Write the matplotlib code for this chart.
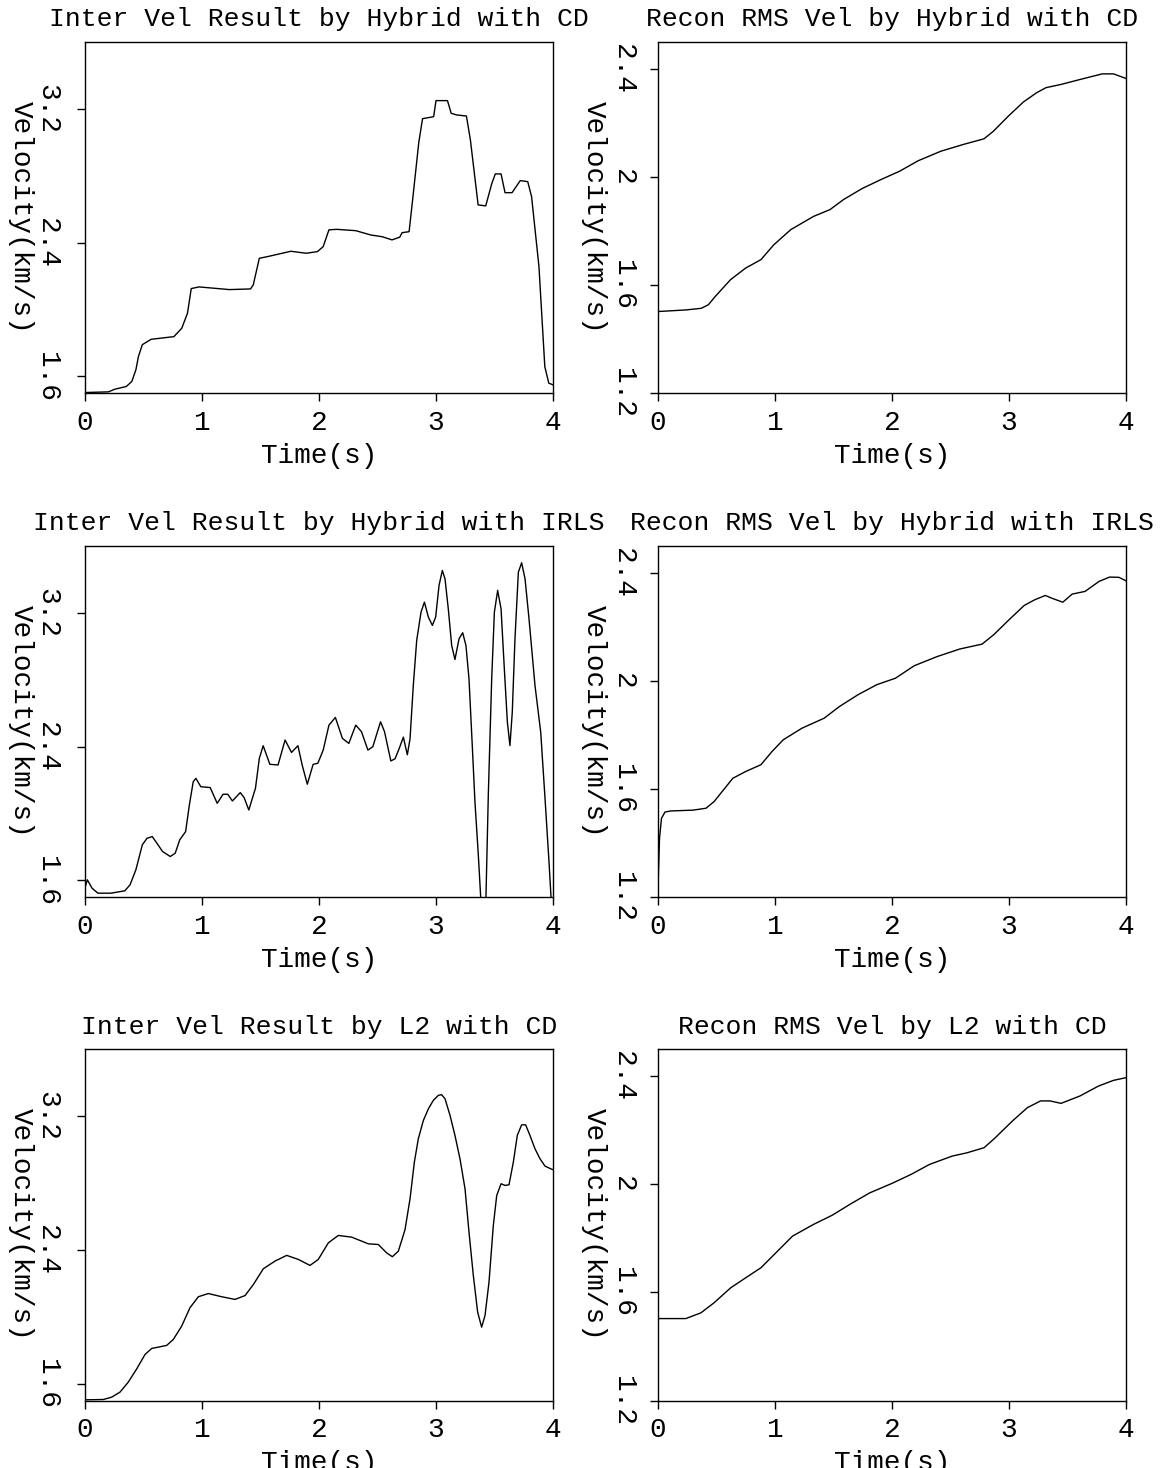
import matplotlib
matplotlib.use("Agg")
import matplotlib.pyplot as plt

plt.rcParams['font.family'] = ['Liberation Mono', 'DejaVu Sans Mono']

# ---------------- data ----------------
titles = [
    "Inter Vel Result by Hybrid with CD", "Recon RMS Vel by Hybrid with CD",
    "Inter Vel Result by Hybrid with IRLS", "Recon RMS Vel by Hybrid with IRLS",
    "Inter Vel Result by L2 with CD", "Recon RMS Vel by L2 with CD",
]
xlabel = "Time(s)"
ylabel = "Velocity(km/s)"
x_ticks = [0, 1, 2, 3, 4]
int_ticks = [1.6, 2.4, 3.2]
int_tick_labels = ["1.6", "2.4", "3.2"]
rms_ticks = [1.2, 1.6, 2.0, 2.4]
rms_tick_labels = ["1.2", "1.6", "2", "2.4"]
int_range = (1.5, 3.6)
rms_range = (1.2, 2.5)
t_range = (0, 4)

# Interval velocity, Hybrid with CD
t_int_cd = [0.0, 0.2, 0.255, 0.353, 0.40, 0.435, 0.457, 0.49, 0.565, 0.76, 0.827, 0.876,
            0.908, 0.974, 1.235, 1.415, 1.438, 1.49, 1.56, 1.76, 1.89, 1.987, 2.036, 2.085,
            2.15, 2.314, 2.444, 2.54, 2.624, 2.69, 2.71, 2.77, 2.80, 2.853, 2.885, 2.98,
            3.0, 3.098, 3.13, 3.18, 3.26, 3.294, 3.36, 3.425, 3.477, 3.507, 3.556, 3.59,
            3.65, 3.72, 3.784, 3.817, 3.88, 3.93, 3.964, 4.0]
v_int_cd = [1.504, 1.508, 1.524, 1.54, 1.57, 1.64, 1.72, 1.79, 1.822, 1.838, 1.888, 1.978,
            2.125, 2.135, 2.119, 2.123, 2.147, 2.306, 2.316, 2.348, 2.336, 2.346, 2.376, 2.476,
            2.479, 2.471, 2.445, 2.435, 2.416, 2.432, 2.459, 2.465, 2.654, 2.999, 3.14, 3.152,
            3.248, 3.248, 3.172, 3.162, 3.156, 3.013, 2.625, 2.619, 2.753, 2.81, 2.81, 2.698,
            2.698, 2.77, 2.764, 2.674, 2.256, 1.659, 1.56, 1.55]

# RMS velocity, Hybrid with CD
t_rms_cd = [0.0, 0.24, 0.37, 0.43, 0.49, 0.62, 0.75, 0.88, 0.99, 1.135, 1.33, 1.47, 1.585,
            1.745, 1.905, 2.065, 2.225, 2.418, 2.61, 2.787, 2.867, 2.995, 3.123, 3.235,
            3.316, 3.445, 3.605, 3.797, 3.893, 4.0]
v_rms_cd = [1.502, 1.508, 1.514, 1.527, 1.558, 1.62, 1.663, 1.694, 1.749, 1.805, 1.854,
            1.879, 1.916, 1.957, 1.99, 2.021, 2.06, 2.095, 2.12, 2.141, 2.169, 2.225, 2.277,
            2.311, 2.33, 2.342, 2.36, 2.381, 2.381, 2.364]

# Interval velocity, Hybrid with IRLS
t_int_irls = [0.0, 0.02, 0.06, 0.11, 0.22, 0.34, 0.385, 0.435, 0.49, 0.53, 0.575, 0.614,
              0.663, 0.729, 0.771, 0.81, 0.86, 0.892, 0.925, 0.948, 0.99, 1.07, 1.13, 1.18,
              1.22, 1.26, 1.327, 1.36, 1.40, 1.457, 1.49, 1.523, 1.58, 1.65, 1.71, 1.765,
              1.82, 1.856, 1.90, 1.95, 1.99, 2.036, 2.085, 2.14, 2.20, 2.255, 2.314, 2.363,
              2.418, 2.46, 2.526, 2.56, 2.614, 2.650, 2.684, 2.721, 2.755, 2.778, 2.806,
              2.835, 2.872, 2.901, 2.935, 2.969, 2.997, 3.026, 3.054, 3.077, 3.105, 3.134,
              3.162, 3.197, 3.228, 3.256, 3.282, 3.310, 3.333, 3.362, 3.382, 3.405, 3.427,
              3.447, 3.476, 3.499, 3.527, 3.556, 3.584, 3.610, 3.632, 3.652, 3.675, 3.704,
              3.732, 3.761, 3.795, 3.846, 3.895, 3.932, 3.966, 3.983, 4.0]
v_int_irls = [1.558, 1.604, 1.554, 1.524, 1.524, 1.538, 1.574, 1.664, 1.813, 1.852, 1.862,
              1.823, 1.773, 1.743, 1.763, 1.843, 1.892, 2.051, 2.19, 2.21, 2.16, 2.155, 2.061,
              2.115, 2.115, 2.075, 2.125, 2.095, 2.021, 2.151, 2.33, 2.405, 2.294, 2.29, 2.439,
              2.365, 2.405, 2.29, 2.175, 2.294, 2.30, 2.379, 2.528, 2.574, 2.449, 2.419, 2.528,
              2.489, 2.379, 2.399, 2.548, 2.489, 2.314, 2.327, 2.386, 2.456, 2.351, 2.446,
              2.765, 3.034, 3.203, 3.263, 3.173, 3.124, 3.173, 3.363, 3.452, 3.402, 3.223,
              3.004, 2.920, 3.044, 3.080, 3.004, 2.805, 2.406, 2.068, 1.749, 1.5, 1.35, 1.5,
              2.108, 2.805, 3.203, 3.333, 3.223, 2.865, 2.546, 2.406, 2.606, 3.044, 3.442,
              3.498, 3.402, 3.163, 2.765, 2.486, 2.088, 1.709, 1.5, 1.3]

# RMS velocity, Hybrid with IRLS
t_rms_irls = [0.0, 0.013, 0.03, 0.06, 0.11, 0.30, 0.41, 0.48, 0.56, 0.64, 0.75, 0.88, 0.975,
              1.07, 1.23, 1.42, 1.55, 1.71, 1.87, 2.03, 2.19, 2.386, 2.58, 2.77, 2.87, 3.0,
              3.13, 3.22, 3.31, 3.365, 3.46, 3.54, 3.65, 3.77, 3.86, 3.94, 4.0]
v_rms_irls = [1.239, 1.418, 1.492, 1.515, 1.519, 1.522, 1.529, 1.554, 1.597, 1.64, 1.665,
              1.69, 1.739, 1.782, 1.825, 1.862, 1.905, 1.949, 1.986, 2.01, 2.056, 2.09, 2.118,
              2.136, 2.171, 2.226, 2.279, 2.30, 2.316, 2.306, 2.291, 2.321, 2.331, 2.368,
              2.384, 2.383, 2.37]

# Interval velocity, L2 with CD
t_int_l2 = [0.0, 0.157, 0.228, 0.299, 0.370, 0.442, 0.513, 0.570, 0.641, 0.698, 0.755,
            0.826, 0.897, 0.969, 1.054, 1.168, 1.282, 1.368, 1.439, 1.524, 1.624, 1.724,
            1.823, 1.923, 1.994, 2.080, 2.165, 2.279, 2.422, 2.507, 2.578, 2.627, 2.678,
            2.735, 2.778, 2.815, 2.849, 2.892, 2.935, 2.977, 3.020, 3.048, 3.077, 3.120,
            3.162, 3.205, 3.248, 3.282, 3.319, 3.356, 3.390, 3.419, 3.453, 3.490, 3.519,
            3.556, 3.590, 3.624, 3.661, 3.695, 3.732, 3.766, 3.803, 3.846, 3.889, 3.932,
            3.994, 4.0]
v_int_l2 = [1.504, 1.506, 1.520, 1.550, 1.610, 1.689, 1.775, 1.811, 1.821, 1.829, 1.865,
            1.944, 2.054, 2.120, 2.139, 2.120, 2.104, 2.127, 2.193, 2.287, 2.333, 2.367,
            2.343, 2.307, 2.343, 2.442, 2.486, 2.476, 2.436, 2.432, 2.382, 2.359, 2.392,
            2.520, 2.705, 2.924, 3.064, 3.173, 3.243, 3.293, 3.323, 3.327, 3.303, 3.203,
            3.084, 2.944, 2.765, 2.506, 2.247, 2.028, 1.938, 2.008, 2.207, 2.546, 2.725,
            2.795, 2.785, 2.789, 2.924, 3.084, 3.147, 3.147, 3.084, 3.004, 2.944, 2.900,
            2.880, 2.880]

# RMS velocity, L2 with CD
t_rms_l2 = [0.0, 0.237, 0.366, 0.478, 0.622, 0.75, 0.88, 1.007, 1.15, 1.328, 1.488, 1.65,
            1.81, 2.0, 2.162, 2.32, 2.515, 2.64, 2.787, 2.883, 3.03, 3.157, 3.27, 3.35, 3.445,
            3.605, 3.765, 3.893, 4.0]
v_rms_l2 = [1.503, 1.503, 1.524, 1.561, 1.617, 1.654, 1.691, 1.746, 1.808, 1.851, 1.885,
            1.928, 1.968, 2.003, 2.036, 2.073, 2.104, 2.116, 2.135, 2.172, 2.234, 2.283, 2.308,
            2.308, 2.299, 2.326, 2.363, 2.384, 2.394]

series = [(t_int_cd, v_int_cd), (t_rms_cd, v_rms_cd),
          (t_int_irls, v_int_irls), (t_rms_irls, v_rms_irls),
          (t_int_l2, v_int_l2), (t_rms_l2, v_rms_l2)]

# ---------------- figure ----------------
W, H = 1169, 1468
fig = plt.figure(figsize=(W / 100, H / 100), dpi=100)

col_x = [85, 658]
row_top = [41.7, 545.7, 1049]
ax_w, ax_h = 468, 351.5
FS = 19

for i, (t, v) in enumerate(series):
    r, c = divmod(i, 2)
    left = col_x[c] / W
    bottom = 1 - (row_top[r] + ax_h) / H
    ax = fig.add_axes([left, bottom, ax_w / W, ax_h / H])
    ax.plot(t, v, color='black', lw=1.0, solid_joinstyle='round')
    ax.set_xlim(*t_range)
    if c == 0:
        ax.set_ylim(*int_range)
        ax.set_yticks(int_ticks)
        ax.set_yticklabels(int_tick_labels)
        ypad = 12
    else:
        ax.set_ylim(*rms_range)
        ax.set_yticks(rms_ticks)
        ax.set_yticklabels(rms_tick_labels)
        ypad = 10
    ax.set_xticks(x_ticks)
    ax.set_xticklabels([str(x) for x in x_ticks])
    ax.tick_params(axis='both', direction='out', length=6, width=1.0,
                   labelsize=FS + 1, color='black')
    ax.tick_params(axis='x', pad=6)
    ax.tick_params(axis='y', pad=ypad)
    for lbl in ax.get_yticklabels():
        lbl.set_rotation(-90)
        lbl.set_va('center')
        lbl.set_ha('right')
    for sp in ax.spines.values():
        sp.set_linewidth(1.0)
        sp.set_color('black')
    ax.set_title(titles[i], fontsize=FS, pad=11)
    ax.set_xlabel(xlabel, fontsize=FS + 1, labelpad=5)
    ax.set_ylabel(ylabel, fontsize=FS + 1, rotation=-90, rotation_mode='default',
                  va='center', ha='center')
    ax.yaxis.set_label_coords(-0.138, 0.5)

fig.savefig("out.png", dpi=100)
